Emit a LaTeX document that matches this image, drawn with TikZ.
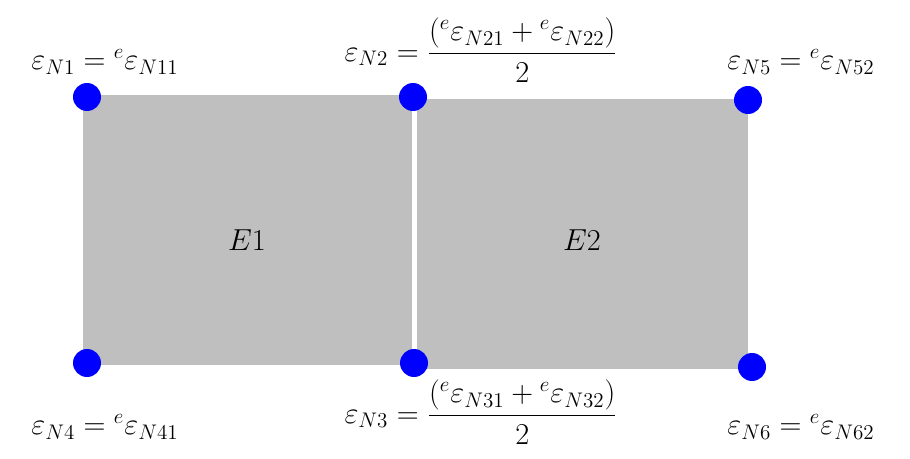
\documentclass[tikz,border=0pt]{standalone}
\usepackage{amsmath}
\begin{document}
\begin{tikzpicture}[x=0.02cm,y=-0.02cm,
  elem/.style={fill=black!25,draw=none},
  nodedot/.style={circle,fill=blue,inner sep=0pt,minimum size=0.56cm},
  lbl/.style={font=\fontsize{17}{20}\selectfont}]
\useasboundingbox (0,0) rectangle (910,459);
% elements
\fill[elem] (83,95) rectangle (412,365);
\fill[elem] (417,99) rectangle (748,369);
\node[lbl] (e1) at (247,240) {$E1$};
\node[lbl] (e2) at (582,240) {$E2$};
% nodes
\node[nodedot] (n1) at (87,97) {};
\node[nodedot] (n2) at (413,97) {};
\node[nodedot] (n4) at (87,363) {};
\node[nodedot] (n3) at (414,363) {};
\node[nodedot] (n5) at (748,100) {};
\node[nodedot] (n6) at (752,367) {};
% labels
\node[lbl] (l1) at (105,62) {$\varepsilon_{N1}={}^{e}\varepsilon_{N11}$};
\node[lbl] (l2) at (481,50) {$\varepsilon_{N2}=\dfrac{({}^{e}\varepsilon_{N21}+{}^{e}\varepsilon_{N22})}{2}$};
\node[lbl] (l5) at (801,62) {$\varepsilon_{N5}={}^{e}\varepsilon_{N52}$};
\node[lbl] (l4) at (105,427) {$\varepsilon_{N4}={}^{e}\varepsilon_{N41}$};
\node[lbl] (l3) at (481,412) {$\varepsilon_{N3}=\dfrac{({}^{e}\varepsilon_{N31}+{}^{e}\varepsilon_{N32})}{2}$};
\node[lbl] (l6) at (801,427) {$\varepsilon_{N6}={}^{e}\varepsilon_{N62}$};
\end{tikzpicture}
\end{document}
